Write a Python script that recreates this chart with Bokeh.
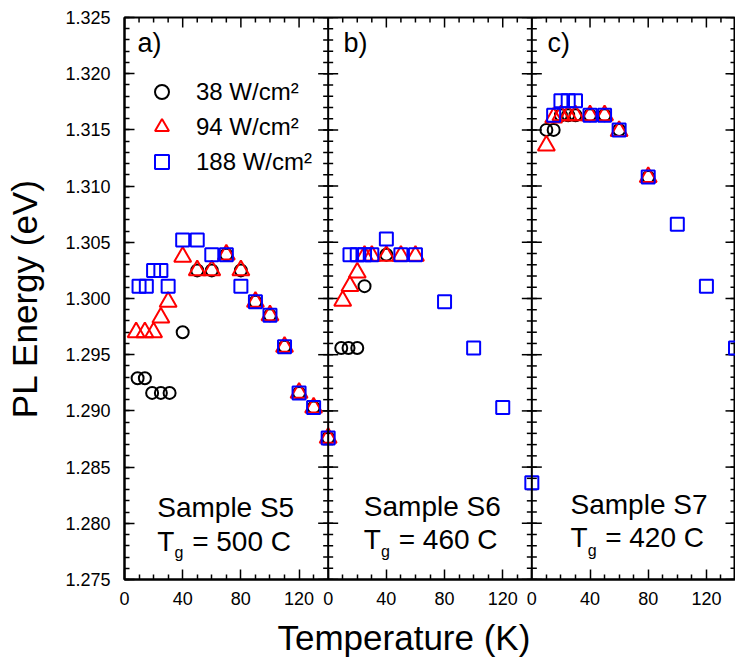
import numpy as np
from bokeh.plotting import figure
from bokeh.models import (Range1d, LinearAxis, FixedTicker, SingleIntervalTicker,
                          PrintfTickFormatter, Label, Span, Legend, LegendItem, Title)
from bokeh.embed import file_html
from bokeh.resources import INLINE

FONT = "Liberation Sans"

# ---------------- data ----------------
# Panel a) Sample S5
s5_38_T = [9, 14, 19, 25, 31, 40, 50, 60, 70, 80, 90, 100, 110, 120, 130, 140]
s5_38_E = [1.2929, 1.2929, 1.2916, 1.2916, 1.2916, 1.2970, 1.3025, 1.3025, 1.3039, 1.3025,
           1.2997, 1.2985, 1.2957, 1.2916, 1.2903, 1.2876]
s5_94_T = [8, 14, 20, 25, 30, 40, 50, 60, 70, 80, 90, 100, 110, 120, 130, 140]
s5_94_E = [1.2970, 1.2970, 1.2970, 1.2983, 1.2997, 1.3037, 1.3025, 1.3025, 1.3039, 1.3025,
           1.2997, 1.2985, 1.2957, 1.2916, 1.2903, 1.2876]
s5_188_T = [10, 15, 20, 25, 30, 40, 50, 60, 70, 80, 90, 100, 110, 120, 130, 140]
s5_188_E = [1.3011, 1.3011, 1.3025, 1.3025, 1.3011, 1.3052, 1.3052, 1.3039, 1.3039, 1.3011,
            1.2997, 1.2985, 1.2957, 1.2916, 1.2903, 1.2876]

# Panel b) Sample S6
s6_38_T = [9, 14, 20, 25, 40]
s6_38_E = [1.2956, 1.2956, 1.2956, 1.3011, 1.3039]
s6_94_T = [10, 15, 20, 25, 30, 40, 50, 60]
s6_94_E = [1.2998, 1.3011, 1.3023, 1.3038, 1.3038, 1.3038, 1.3038, 1.3038]
s6_188_T = [15, 20, 25, 30, 40, 50, 60, 80, 100, 120, 140]
s6_188_E = [1.3039, 1.3039, 1.3039, 1.3039, 1.3053, 1.3039, 1.3039, 1.2997, 1.2956, 1.2903, 1.2836]

# Panel c) Sample S7
s7_38_T = [10, 15, 20, 25, 30, 40, 50, 60, 80]
s7_38_E = [1.3150, 1.3150, 1.3163, 1.3163, 1.3163, 1.3163, 1.3163, 1.3150, 1.3108]
s7_94_T = [10, 15, 20, 25, 30, 40, 50, 60, 80]
s7_94_E = [1.3136, 1.3161, 1.3163, 1.3163, 1.3163, 1.3163, 1.3163, 1.3149, 1.3108]
s7_188_T = [15, 20, 25, 30, 40, 50, 60, 80, 100, 120, 140]
s7_188_E = [1.3163, 1.3176, 1.3176, 1.3176, 1.3163, 1.3163, 1.3150, 1.3108, 1.3066, 1.3011, 1.2956]

series_labels = ["38 W/cm²", "94 W/cm²", "188 W/cm²"]
panel_tags = ["a)", "b)", "c)"]
sample_names = ["Sample S5", "Sample S6", "Sample S7"]
growth_temps = ["= 500 C", "= 460 C", "= 420 C"]
x_title = "Temperature (K)"
y_title = "PL Energy (eV)"

# axis ticks (three 0-140 K panels side by side)
X_MAX = 420
Y_MIN, Y_MAX = 1.275, 1.325
x_major_ticks = [0, 40, 80, 120, 140, 180, 220, 260, 280, 320, 360, 400]
x_tick_labels = ["0", "40", "80", "120", "0", "40", "80", "120", "0", "40", "80", "120"]
x_minor_ticks = [10, 20, 30, 50, 60, 70, 90, 100, 110, 130,
                 150, 160, 170, 190, 200, 210, 230, 240, 250, 270,
                 290, 300, 310, 330, 340, 350, 370, 380, 390, 410]
panel_bounds = [140, 280]
y_major_ticks = [1.275, 1.280, 1.285, 1.290, 1.295, 1.300, 1.305, 1.310, 1.315, 1.320, 1.325]
y_minor_ticks = [round(Y_MIN + 0.001 * i, 3) for i in range(51)]

# ---------------- figure ----------------
p = figure(width=735, height=664, output_backend="svg", toolbar_location=None,
           x_range=Range1d(0, X_MAX), y_range=Range1d(Y_MIN, Y_MAX),
           x_axis_location=None, y_axis_location=None,
           min_border_left=124, min_border_right=0, min_border_top=17, min_border_bottom=84,
           background_fill_color="white", border_fill_color="white")
p.outline_line_color = "black"
p.outline_line_width = 2
p.xgrid.visible = False
p.ygrid.visible = False
p.extra_x_ranges = {"b": Range1d(-140, 280), "c": Range1d(-280, 140)}

xticker = FixedTicker(ticks=x_major_ticks, minor_ticks=x_minor_ticks)
yticker = SingleIntervalTicker(interval=0.005, num_minor_ticks=5)


def style_axis(ax):
    ax.axis_line_width = 2
    ax.axis_line_color = "black"
    ax.major_tick_in = 10
    ax.major_tick_out = 0
    ax.minor_tick_in = 5
    ax.minor_tick_out = 0
    ax.major_tick_line_width = 1.5
    ax.minor_tick_line_width = 1.5
    ax.major_tick_line_color = "black"
    ax.minor_tick_line_color = "black"
    ax.major_label_text_font = FONT
    ax.major_label_text_font_size = "18px"
    ax.major_label_text_color = "black"


xb = LinearAxis(ticker=xticker,
                major_label_overrides={t: l for t, l in zip(x_major_ticks, x_tick_labels)})
style_axis(xb)
xb.major_label_standoff = 12
p.add_layout(xb, "below")

p.add_layout(Title(text=x_title, align="left", offset=153, vertical_align="bottom",
                   text_font=FONT, text_font_size="35px", text_font_style="normal",
                   text_color="black", standoff=16), "below")

yl = LinearAxis(ticker=yticker, formatter=PrintfTickFormatter(format="%.3f"),
                axis_label=y_title)
style_axis(yl)
yl.major_label_standoff = 14
yl.axis_label_text_font = FONT
yl.axis_label_text_font_size = "35px"
yl.axis_label_text_font_style = "normal"
yl.axis_label_text_color = "black"
yl.axis_label_standoff = 18
p.add_layout(yl, "left")

# inward tick marks on the top edge, the right edge and the interior panel boundaries
p.scatter(x=x_minor_ticks, y=[Y_MAX] * len(x_minor_ticks), marker="dash", angle=np.pi / 2,
          size=10, line_color="black", line_width=1.5)
p.scatter(x=x_major_ticks, y=[Y_MAX] * len(x_major_ticks), marker="dash", angle=np.pi / 2,
          size=20, line_color="black", line_width=1.5)
for xbnd in panel_bounds + [X_MAX]:
    if xbnd != X_MAX:
        p.add_layout(Span(location=xbnd, dimension="height", line_color="black", line_width=2))
    p.scatter(x=[xbnd] * len(y_minor_ticks), y=y_minor_ticks, marker="dash", size=10,
              line_color="black", line_width=1.5)
    p.scatter(x=[xbnd] * len(y_major_ticks), y=y_major_ticks, marker="dash", size=20,
              line_color="black", line_width=1.5)

# ---------------- data glyphs ----------------
panels = [
    ("default", s5_38_T, s5_38_E, s5_94_T, s5_94_E, s5_188_T, s5_188_E),
    ("b", s6_38_T, s6_38_E, s6_94_T, s6_94_E, s6_188_T, s6_188_E),
    ("c", s7_38_T, s7_38_E, s7_94_T, s7_94_E, s7_188_T, s7_188_E),
]
legend_renderers = None
for rn, cT, cE, tT, tE, sT, sE in panels:
    rc = p.scatter(x=cT, y=cE, marker="circle", size=12, fill_color=None,
                   line_color="black", line_width=2, x_range_name=rn)
    rt = p.scatter(x=tT, y=tE, marker="triangle", size=17, fill_color=None,
                   line_color="#ff0000", line_width=2, x_range_name=rn)
    rs = p.scatter(x=sT, y=sE, marker="square", size=13, fill_color=None,
                   line_color="#0000ff", line_width=2, x_range_name=rn)
    if legend_renderers is None:
        legend_renderers = [rc, rt, rs]

legend = Legend(items=[LegendItem(label=lab, renderers=[r])
                       for lab, r in zip(series_labels, legend_renderers)],
                location=(20, 400), padding=0, margin=0, spacing=0,
                glyph_width=35, glyph_height=35, label_standoff=17,
                label_text_font=FONT, label_text_font_size="24px",
                label_text_color="black", border_line_color=None,
                background_fill_alpha=0)
p.add_layout(legend)

# ---------------- annotations ----------------
range_names = ["default", "b", "c"]
tag_x = [9, 10.5, 10.8]
tag_y = 1.3227
sample_x = [22.5, 24.5, 26.6]
sample_y = [1.2814, 1.2815, 1.2817]
t_y = [1.2784, 1.2786, 1.2787]
g_x = [34.3, 36.3, 38.4]
g_y = [1.2774, 1.2775, 1.2776]
eq_x = [46.5, 48.5, 50.4]

for i, rn in enumerate(range_names):
    common = dict(x_range_name=rn, text_font=FONT, text_color="black",
                  text_baseline="alphabetic", text_align="left")
    p.add_layout(Label(x=tag_x[i], y=tag_y, text=panel_tags[i], text_font_size="27px", **common))
    p.add_layout(Label(x=sample_x[i], y=sample_y[i], text=sample_names[i],
                       text_font_size="28px", **common))
    p.add_layout(Label(x=sample_x[i], y=t_y[i], text="T", text_font_size="28px", **common))
    p.add_layout(Label(x=g_x[i], y=g_y[i], text="g", text_font_size="16px", **common))
    p.add_layout(Label(x=eq_x[i], y=t_y[i], text=growth_temps[i],
                       text_font_size="28px", **common))

open("out.html", "w").write(file_html(p, INLINE))
